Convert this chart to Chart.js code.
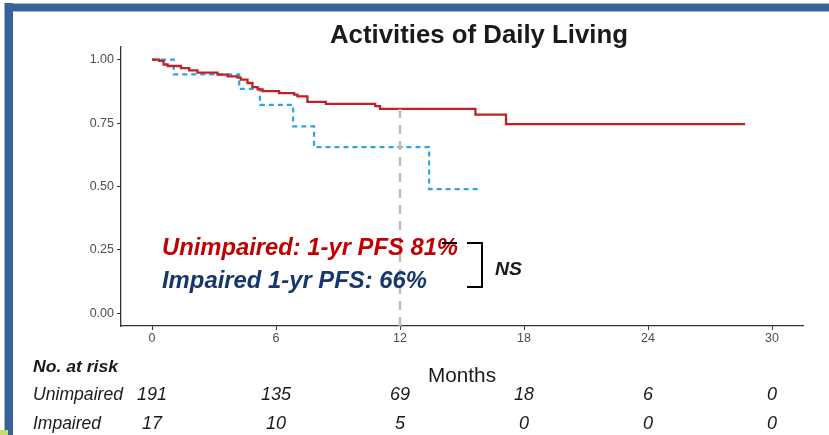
<!DOCTYPE html>
<html>
<head>
<meta charset="utf-8">
<script src="https://cdn.jsdelivr.net/npm/chart.js@4.4.1/dist/chart.umd.min.js"></script>
<style>
  html, body { margin:0; padding:0; background:#fff; }
  #wrap { position:relative; width:829px; height:435px; overflow:hidden; background:#fff; }
  #c { position:absolute; left:0; top:0; }
  .bar { position:absolute; background:#37639A; }
</style>
</head>
<body>
<div id="wrap">
  <canvas id="c" width="829" height="435"></canvas>
  <div class="bar" style="left:4px; top:3px; width:825px; height:7px; border-top:1px solid #9DB3D0; border-bottom:1px solid #9DB3D0;"></div>
  <div class="bar" style="left:4px; top:3px; width:8px; height:432px; border-left:1px solid #9DB3D0;"></div>
  <div style="position:absolute; left:0; top:430px; width:8px; height:5px; background:#C9DA6E;"></div>
</div>
<script>
// ---- data ----
const unimpairedTime = [0, 0.35, 0.56, 0.76, 1.40, 1.80, 2.20, 3.17, 3.66, 4.14, 4.30, 4.62, 4.86, 5.11, 5.35, 6.15, 6.88, 7.04, 7.52, 8.41, 10.8, 11.03, 15.65, 17.13, 28.7];
const unimpairedSurv = [1.0, 0.995, 0.981, 0.975, 0.967, 0.958, 0.949, 0.941, 0.934, 0.929, 0.921, 0.908, 0.892, 0.883, 0.876, 0.868, 0.862, 0.855, 0.834, 0.826, 0.817, 0.806, 0.783, 0.746, 0.746];
const impairedTime = [0, 1.05, 4.22, 5.22, 6.83, 7.84, 13.41, 15.8];
const impairedSurv = [1.0, 0.942, 0.885, 0.822, 0.737, 0.655, 0.49, 0.49];
const landmarkMonth = 12;
const landmarkTop = 0.806;
const xTicks = [0, 6, 12, 18, 24, 30];
const yTicks = [0, 0.25, 0.5, 0.75, 1.0];
const riskTimes = [0, 6, 12, 18, 24, 30];
const riskUnimpaired = [191, 135, 69, 18, 6, 0];
const riskImpaired = [17, 10, 5, 0, 0, 0];
const titleText = 'Activities of Daily Living';
const annotUnimpaired = 'Unimpaired: 1-yr PFS 81%';
const annotImpaired = 'Impaired 1-yr PFS: 66%';

const FONT = "'Liberation Sans', Arial, sans-serif";

function fitText(ctx, text, x, y, font, targetW, align, color) {
  ctx.save();
  ctx.font = font;
  ctx.fillStyle = color;
  ctx.textBaseline = 'alphabetic';
  const w = ctx.measureText(text).width;
  const sx = targetW ? targetW / w : 1;
  ctx.translate(x, y);
  ctx.scale(sx, 1);
  ctx.textAlign = align;
  ctx.fillText(text, 0, 0);
  ctx.restore();
}

const overlay = {
  id: 'overlay',
  afterDraw(chart) {
    const ctx = chart.ctx;
    const xs = chart.scales.x;
    // title
    fitText(ctx, titleText, 479, 43, 'bold 25px ' + FONT, 298, 'center', '#1a1a1a');
    // annotations
    fitText(ctx, annotUnimpaired, 162, 255, 'italic bold 24px ' + FONT, 296, 'left', '#C00000');
    fitText(ctx, annotImpaired, 162, 288, 'italic bold 24px ' + FONT, 265, 'left', '#17366E');
    // bracket
    ctx.save();
    ctx.strokeStyle = '#000';
    ctx.lineWidth = 2;
    ctx.beginPath();
    ctx.moveTo(442, 243); ctx.lineTo(457, 243);
    ctx.moveTo(467, 243); ctx.lineTo(482, 243); ctx.lineTo(482, 287); ctx.lineTo(467, 287);
    ctx.stroke();
    ctx.restore();
    fitText(ctx, 'NS', 495, 275, 'italic bold 18px ' + FONT, 27, 'left', '#1a1a1a');
    // risk table
    fitText(ctx, 'No. at risk', 33, 372, 'italic bold 16px ' + FONT, 85, 'left', '#1a1a1a');
    fitText(ctx, 'Months', (xs.left + xs.right) / 2, 382, '21px ' + FONT, 68, 'center', '#1a1a1a');
    fitText(ctx, 'Unimpaired', 33, 400, 'italic 18px ' + FONT, 90, 'left', '#1a1a1a');
    fitText(ctx, 'Impaired', 33, 429, 'italic 18px ' + FONT, 68, 'left', '#1a1a1a');
    riskTimes.forEach((t, i) => {
      const px = xs.getPixelForValue(t);
      fitText(ctx, String(riskUnimpaired[i]), px, 400, 'italic 18px ' + FONT, null, 'center', '#1a1a1a');
      fitText(ctx, String(riskImpaired[i]), px, 429, 'italic 18px ' + FONT, null, 'center', '#1a1a1a');
    });
  }
};

const toPts = (ts, ss) => ts.map((t, i) => ({ x: t, y: ss[i] }));

new Chart(document.getElementById('c'), {
  type: 'scatter',
  data: {
    datasets: [
      { label: '12 months', data: [{ x: landmarkMonth, y: landmarkTop }, { x: landmarkMonth, y: -0.05 }],
        showLine: true, borderColor: '#BDBDBD', borderWidth: 2.5, borderDash: [9, 7], pointRadius: 0, order: 0 },
      { label: 'Unimpaired', data: toPts(unimpairedTime, unimpairedSurv), showLine: true, stepped: 'before',
        borderColor: '#BF2127', borderWidth: 2.3, pointRadius: 0, order: 1 },
      { label: 'Impaired', data: toPts(impairedTime, impairedSurv), showLine: true, stepped: 'before',
        borderColor: '#2EA3E6', borderWidth: 2.2, borderDash: [5, 4], pointRadius: 0, order: 2 }
    ]
  },
  options: {
    responsive: false,
    animation: false,
    layout: { padding: { top: 47, right: 26, left: 0, bottom: 0 } },
    plugins: { legend: { display: false }, tooltip: { enabled: false }, title: { display: false } },
    scales: {
      x: {
        type: 'linear', min: -1.5, max: 31.5,
        afterBuildTicks: s => { s.ticks = xTicks.map(v => ({ value: v })); },
        afterFit: s => { s.height = 109; },
        ticks: { color: '#4D4D4D', font: { family: FONT, size: 12.5 }, padding: 1, maxRotation: 0 },
        grid: { drawOnChartArea: false, drawTicks: true, tickLength: 4, color: '#333', lineWidth: 1 },
        border: { display: true, color: '#333', width: 1.3 }
      },
      y: {
        type: 'linear', min: -0.05, max: 1.05,
        afterBuildTicks: s => { s.ticks = yTicks.map(v => ({ value: v })); },
        afterFit: s => { s.width = 121; },
        ticks: { color: '#4D4D4D', font: { family: FONT, size: 12.5 }, padding: 3, callback: v => Number(v).toFixed(2) },
        grid: { drawOnChartArea: false, drawTicks: true, tickLength: 4, color: '#333', lineWidth: 1 },
        border: { display: true, color: '#333', width: 1.3 }
      }
    }
  },
  plugins: [overlay]
});
</script>
</body>
</html>
